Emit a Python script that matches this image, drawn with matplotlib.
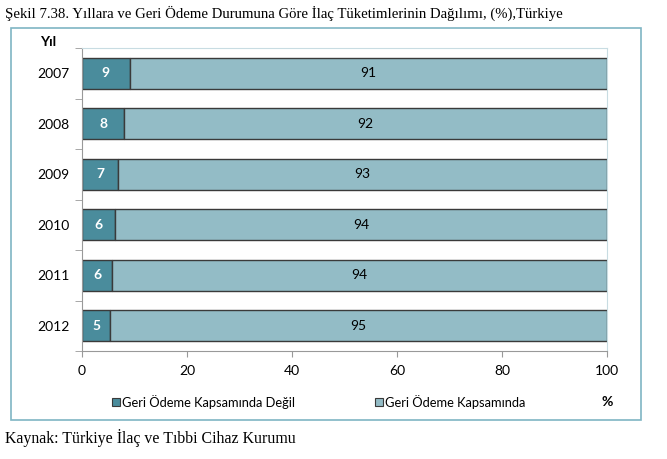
import matplotlib
matplotlib.use("Agg")
import matplotlib.pyplot as plt
from matplotlib.patches import Rectangle

# veri
years = ["2007", "2008", "2009", "2010", "2011", "2012"]
not_covered = [9.1, 8.0, 6.9, 6.3, 5.7, 5.4]
covered = [100 - v for v in not_covered]
label_not = ["9", "8", "7", "6", "6", "5"]
label_cov = ["91", "92", "93", "94", "94", "95"]
xticks = [0, 20, 40, 60, 80, 100]

COLORS = {
    "dark": "#4a8c9c",
    "light": "#93bcc6",
    "edge": "#3a3a3a",
    "frame": "#7fb5c4",
}

SANS = ["Lato", "DejaVu Sans"]
SERIF = ["Liberation Serif", "DejaVu Serif"]

W, H = 667, 459
fig = plt.figure(figsize=(W / 100, H / 100), dpi=100)

# dış çerçeve
fig.patches.append(Rectangle((11 / W, 1 - 420 / H), (641 - 11) / W, (420 - 28) / H,
                             transform=fig.transFigure, fill=False,
                             edgecolor=COLORS["frame"], linewidth=1.2))

ax = fig.add_axes([82 / W, 1 - 351 / H, (607 - 82) / W, (351 - 48) / H])

ypos = list(range(len(years)))[::-1]
ax.barh(ypos, not_covered, height=0.62, color=COLORS["dark"],
        edgecolor=COLORS["edge"], linewidth=1.0)
ax.barh(ypos, covered, left=not_covered, height=0.62, color=COLORS["light"],
        edgecolor=COLORS["edge"], linewidth=1.0)

for y, a, b, la, lb in zip(ypos, not_covered, covered, label_not, label_cov):
    ax.text(a / 2, y, la, ha="center", va="center", color="white",
            fontsize=10, fontweight="bold", family=SANS)
    ax.text(a + b / 2, y, lb, ha="center", va="center", color="black",
            fontsize=10, family=SANS)

ax.set_xlim(0, 100)
ax.set_ylim(-0.5, len(years) - 0.5)
ax.set_xticks(xticks)
ax.set_xticklabels([str(t) for t in xticks], family=SANS, fontsize=10)
ax.set_yticks(ypos)
ax.set_yticklabels(years, family=SANS, fontsize=10)
ax.set_yticks([i - 0.5 for i in range(len(years) + 1)], minor=True)
ax.tick_params(axis="y", which="major", length=0, pad=9)
ax.tick_params(axis="y", which="minor", length=5, color="#999999", direction="out")
ax.tick_params(axis="x", length=4, color="#999999", direction="out", pad=6)

for side in ["left", "bottom"]:
    ax.spines[side].set_color("#999999")
for side in ["top", "right"]:
    ax.spines[side].set_color("#c8dce2")

# etiketler
fig.text(40 / W, 1 - 42 / H, "Yıl", fontsize=10, fontweight="bold",
         family=SANS, ha="left", va="center")
fig.text(602 / W, 1 - 402 / H, "%", fontsize=10, fontweight="bold",
         family=SANS, ha="left", va="center")

# lejant
for x0, txt, col in [(112, "Geri Ödeme Kapsamında Değil", COLORS["dark"]),
                     (375, "Geri Ödeme Kapsamında", COLORS["light"])]:
    fig.patches.append(Rectangle((x0 / W, 1 - 406 / H), 8 / W, 8 / H,
                                 transform=fig.transFigure, facecolor=col,
                                 edgecolor=COLORS["edge"], linewidth=0.8))
    fig.text((x0 + 10) / W, 1 - 402 / H, txt, fontsize=9.3, family=SANS,
             ha="left", va="center")

fig.text(5 / W, 1 - 13 / H,
         "Şekil 7.38. Yıllara ve Geri Ödeme Durumuna Göre İlaç Tüketimlerinin Dağılımı, (%),Türkiye",
         fontsize=10.6, family=SERIF, ha="left", va="center")
fig.text(5 / W, 1 - 438 / H, "Kaynak: Türkiye İlaç ve Tıbbi Cihaz Kurumu",
         fontsize=11.4, family=SERIF, ha="left", va="center")

fig.savefig("out.png", dpi=100, facecolor="white")
